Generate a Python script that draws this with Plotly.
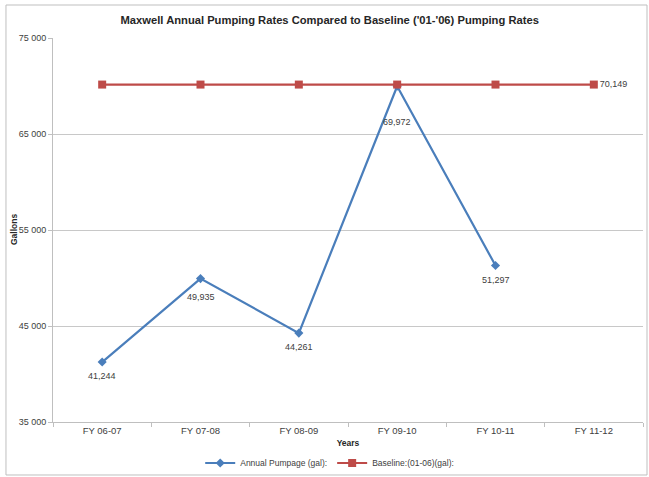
import plotly.graph_objects as go

years = ["FY 06-07", "FY 07-08", "FY 08-09", "FY 09-10", "FY 10-11", "FY 11-12"]
annual = [41244, 49935, 44261, 69972, 51297]
baseline = [70149, 70149, 70149, 70149, 70149, 70149]
ytick_vals = [35000, 45000, 55000, 65000, 75000]
ytick_text = ["35 000", "45 000", "55 000", "65 000", "75 000"]

# label placement (pixels below each point), layout only
label_shift = [-14, -18, -14, -36, -14]

fig = go.Figure()
fig.add_trace(go.Scatter(
    x=years[:len(annual)], y=annual, mode="lines+markers",
    name="Annual Pumpage (gal):",
    line=dict(color="#4A7EBB", width=2.2),
    marker=dict(symbol="diamond", size=7, color="#4A7EBB"),
))
fig.add_trace(go.Scatter(
    x=years, y=baseline, mode="lines+markers+text",
    name="Baseline:(01-06)(gal):",
    line=dict(color="#BE4B48", width=2.2),
    marker=dict(symbol="square", size=8, color="#BE4B48"),
    text=[""] * (len(baseline) - 1) + [f"{baseline[-1]:,}"],
    textposition="middle right",
    textfont=dict(size=9, color="#404040", family="Liberation Sans"),
))

annots = [dict(text=f"{v:,}", x=c, y=v, xref="x", yref="y", showarrow=False,
               yshift=s, font=dict(size=9, color="#404040", family="Liberation Sans"))
          for c, v, s in zip(years, annual, label_shift)]
annots.append(dict(text="<b>Gallons</b>", textangle=-90, xref="paper", yref="paper",
                   x=-0.066, y=0.5, xanchor="center", yanchor="middle", showarrow=False,
                   font=dict(size=8.5, color="#262626")))

fig.update_layout(
    width=649, height=477,
    margin=dict(l=53, r=6, t=38, b=55, autoexpand=False),
    paper_bgcolor="white", plot_bgcolor="white",
    font=dict(family="Liberation Sans", size=9, color="#404040"),
    title=dict(text="<b>Maxwell Annual Pumping Rates Compared to Baseline ('01-'06) Pumping Rates</b>",
               x=0.469, xref="paper", xanchor="center", y=1 - 20 / 477, yref="container",
               yanchor="middle",
               font=dict(size=11.2, color="#262626", family="Liberation Sans")),
    showlegend=True,
    legend=dict(orientation="h", x=0.469, xanchor="center", y=-0.1068, yanchor="middle",
                font=dict(size=8.5, color="#404040"), bgcolor="rgba(0,0,0,0)",
                itemwidth=30, tracegroupgap=0),
    xaxis=dict(
        type="category", categoryorder="array", categoryarray=years,
        range=[-0.5, 5.5], showgrid=False, showline=True, linecolor="#BFBFBF",
        ticks="outside", tickson="boundaries", ticklen=4, tickcolor="#BFBFBF",
        tickfont=dict(size=9.5, color="#404040"), automargin=False,
        title=dict(text="<b>Years</b>", font=dict(size=8.5, color="#262626"), standoff=4),
    ),
    yaxis=dict(
        range=[35000, 75000], tickvals=ytick_vals, ticktext=ytick_text,
        showgrid=True, gridcolor="#C8C8C8", gridwidth=1, automargin=False,
        showline=True, linecolor="#BFBFBF", ticks="outside", ticklen=4, tickcolor="#BFBFBF",
        tickfont=dict(size=9, color="#404040"), zeroline=False,
    ),
    annotations=annots,
    shapes=[dict(type="rect", xref="paper", yref="paper",
                 x0=-0.0797, x1=1.0068, y0=-0.138, y1=1.0859,
                 line=dict(color="#BFBFBF", width=1), fillcolor="rgba(0,0,0,0)", layer="below")],
)

fig.write_html("out.html", config={"displayModeBar": False},
               post_script="document.body.style.margin='0';")
